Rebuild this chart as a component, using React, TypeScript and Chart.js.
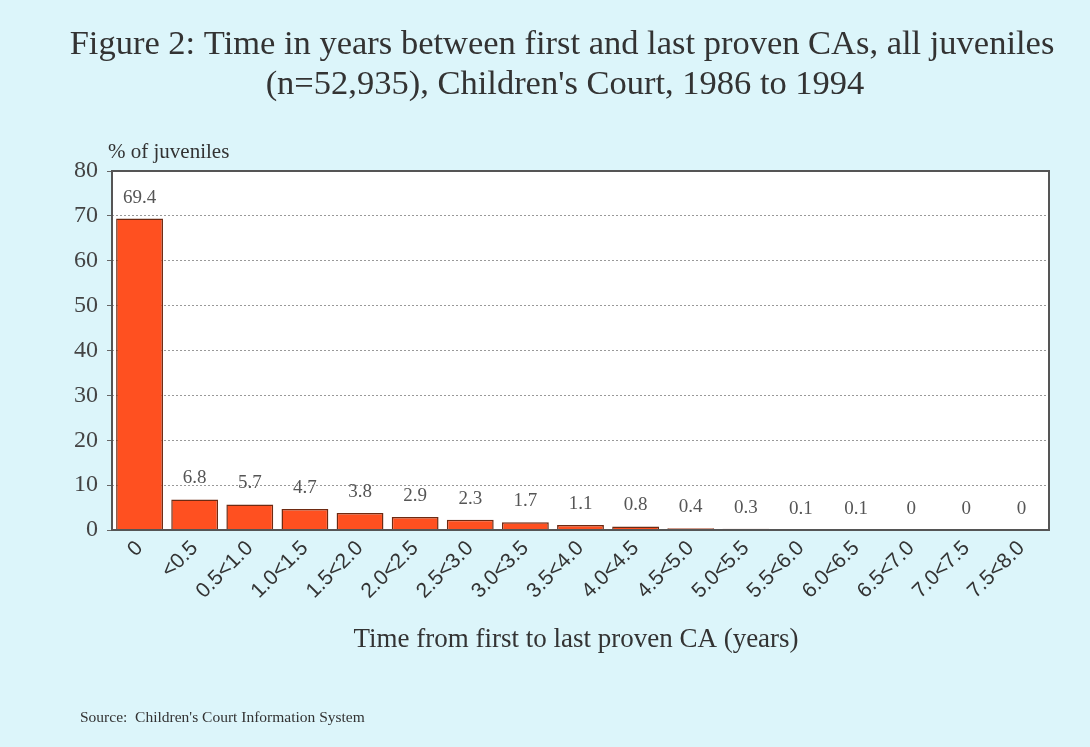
import React, { useEffect, useRef } from "react";
import { Chart, registerables } from "chart.js";

Chart.register(...registerables);

const categories = [
  "0", "<0.5", "0.5<1.0", "1.0<1.5", "1.5<2.0", "2.0<2.5", "2.5<3.0", "3.0<3.5",
  "3.5<4.0", "4.0<4.5", "4.5<5.0", "5.0<5.5", "5.5<6.0", "6.0<6.5", "6.5<7.0", "7.0<7.5", "7.5<8.0",
];
const percentJuveniles = [69.4, 6.8, 5.7, 4.7, 3.8, 2.9, 2.3, 1.7, 1.1, 0.8, 0.4, 0.3, 0.1, 0.1, 0, 0, 0];
const yTickStep = 10;
const titleLines = [
  "Figure 2: Time in years between first and last proven CAs, all juveniles",
  "(n=52,935), Children's Court, 1986 to 1994",
];
const yAxisLabel = "% of juveniles";
const xAxisLabel = "Time from first to last proven CA (years)";
const sourceNote = "Source:  Children's Court Information System";

const SERIF = "'Liberation Serif', 'Times New Roman', serif";
const SANS = "'Liberation Sans', Arial, sans-serif";

const decorations = {
  id: "decorations",
  beforeDraw(chart: any) {
    const { ctx, chartArea } = chart;
    ctx.save();
    ctx.fillStyle = "#ffffff";
    ctx.fillRect(chartArea.left, chartArea.top, chartArea.right - chartArea.left, chartArea.bottom - chartArea.top);
    ctx.restore();
  },
  afterDatasetsDraw(chart: any) {
    const { ctx, chartArea } = chart;
    ctx.save();
    // plot frame
    ctx.strokeStyle = "#555";
    ctx.lineWidth = 2;
    ctx.strokeRect(chartArea.left, chartArea.top, chartArea.right - chartArea.left, chartArea.bottom - chartArea.top);

    // value labels above bars
    const meta = chart.getDatasetMeta(0);
    ctx.fillStyle = "#555";
    ctx.font = `19px ${SERIF}`;
    ctx.textAlign = "center";
    ctx.textBaseline = "middle";
    meta.data.forEach((el: any, i: number) => {
      ctx.fillText(String(percentJuveniles[i]), el.x, el.y - 21);
    });

    // headings and notes
    ctx.fillStyle = "#333";
    ctx.font = `34.5px ${SERIF}`;
    ctx.textAlign = "center";
    ctx.fillText(titleLines[0], 562, 45);
    ctx.fillText(titleLines[1], 565, 85);

    ctx.font = `21px ${SERIF}`;
    ctx.textAlign = "left";
    ctx.fillText(yAxisLabel, 108, 152);

    ctx.font = `27px ${SERIF}`;
    ctx.textAlign = "center";
    ctx.fillText(xAxisLabel, 576, 640);

    ctx.font = `15.5px ${SERIF}`;
    ctx.textAlign = "left";
    ctx.fillText(sourceNote, 80, 718);
    ctx.restore();
  },
};

export default function App() {
  const canvasRef = useRef<HTMLCanvasElement | null>(null);

  useEffect(() => {
    document.body.style.margin = "0";
    const chart = new Chart(canvasRef.current as HTMLCanvasElement, {
      type: "bar",
      data: {
        labels: categories,
        datasets: [
          {
            data: percentJuveniles,
            backgroundColor: "#ff5020",
            borderColor: "#6e2a12",
            borderWidth: 1.5,
            barPercentage: 0.85,
            categoryPercentage: 1,
          },
        ],
      },
      options: {
        responsive: false,
        animation: false,
        layout: { padding: { left: 0, right: 41, top: 171, bottom: 0 } },
        plugins: { legend: { display: false }, tooltip: { enabled: false }, title: { display: false } },
        scales: {
          x: {
            grid: { display: false, drawTicks: false },
            border: { display: false },
            ticks: {
              minRotation: 45,
              maxRotation: 45,
              padding: 6,
              color: "#333",
              font: { family: SANS, size: 21 },
              autoSkip: false,
            },
            afterFit: (s: any) => {
              s.height = 217;
            },
          },
          y: {
            min: 0,
            max: 80,
            ticks: {
              stepSize: yTickStep,
              padding: 9,
              color: "#444",
              font: { family: SERIF, size: 24 },
            },
            grid: {
              color: (c: any) => (c.tick && (c.tick.value === 0 || c.tick.value === 80) ? "rgba(0,0,0,0)" : "#999"),
              tickColor: "#666",
              tickLength: 5,
              lineWidth: 1,
            },
            border: { display: false, dash: [2, 2] },
            afterFit: (s: any) => {
              s.width = 112;
            },
          },
        },
      },
      plugins: [decorations],
    });
    return () => chart.destroy();
  }, []);

  return (
    <div style={{ width: 1090, height: 747, background: "#dcf5fa" }}>
      <canvas ref={canvasRef} width={1090} height={747} />
    </div>
  );
}
